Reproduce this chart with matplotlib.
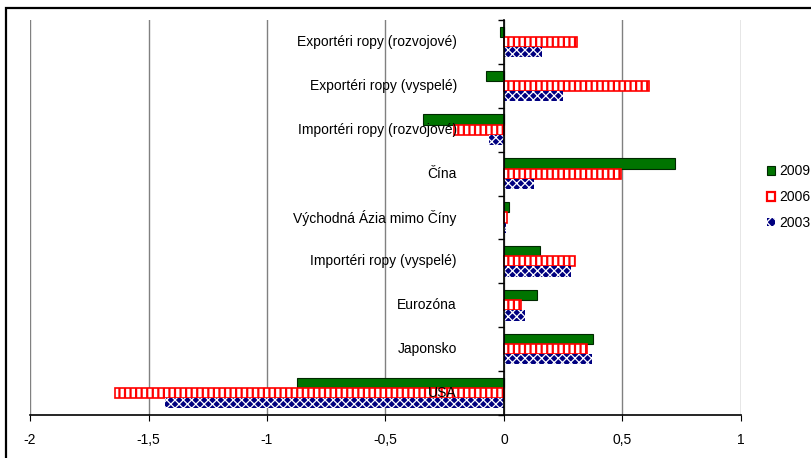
import matplotlib.pyplot as plt
from matplotlib.patches import Patch, Rectangle
import numpy as np

plt.rcParams['font.family'] = ['Liberation Sans', 'DejaVu Sans']
plt.rcParams['font.size'] = 10

# skupiny krajín, zhora nadol
kategorie = ['Exportéri ropy (rozvojové)', 'Exportéri ropy (vyspelé)',
             'Importéri ropy (rozvojové)', 'Čína', 'Východná Ázia mimo Číny',
             'Importéri ropy (vyspelé)', 'Eurozóna', 'Japonsko', 'USA']
roky = ['2009', '2006', '2003']
h2009 = [-0.017, -0.076, -0.343, 0.722, 0.02, 0.15, 0.14, 0.374, -0.875]
h2006 = [0.307, 0.613, -0.21, 0.495, 0.014, 0.298, 0.073, 0.351, -1.643]
h2003 = [0.159, 0.248, -0.062, 0.127, 0.01, 0.281, 0.087, 0.37, -1.43]
x_ticky = [-2, -1.5, -1, -0.5, 0, 0.5, 1]

n = len(kategorie)
y = np.arange(n)[::-1]
v = 0.232  # vyska jedneho stlpca

fig = plt.figure(figsize=(8.12, 4.58), dpi=100)
ax = fig.add_axes([30 / 812, 43 / 458, 711 / 812, 395 / 458])

# ramik okolo celeho grafu
fig.patches.append(Rectangle((5.5 / 812, -0.5), 2, 1.5 - 7.5 / 458,
                             transform=fig.transFigure, fill=False,
                             edgecolor='black', linewidth=1.6))

ax.barh(y + v, h2009, height=v, color='#007400', edgecolor='#002800',
        linewidth=0.8, zorder=3)
with plt.rc_context({'hatch.linewidth': 1.6}):
    ax.barh(y, h2006, height=v, color='white', edgecolor='#ff0000',
            hatch='|||', linewidth=1.2, zorder=3)
with plt.rc_context({'hatch.linewidth': 0.9}):
    ax.barh(y - v, h2003, height=v, color='#000080', edgecolor='white',
            hatch='xxxx', linewidth=0, zorder=3)

# popisky kategorii vlavo od osi
for yi, nazov in zip(y, kategorie):
    ax.annotate(nazov, xy=(0, yi), xytext=(-34, 0), textcoords='offset points',
                ha='right', va='center', zorder=6)

ax.set_xlim(-2, 1)
ax.set_ylim(-0.5, n - 0.5)
ax.set_xticks(x_ticky)
ax.set_xticklabels([f'{t:g}'.replace('.', ',') for t in x_ticky])
ax.tick_params(axis='x', length=4, width=0.8, pad=9, color='black')
ax.xaxis.grid(True, color='#808080', linewidth=1.0, zorder=0)
ax.set_axisbelow(True)

ax.spines['top'].set_visible(False)
ax.spines['right'].set_visible(False)
ax.spines['left'].set_position(('data', 0))
ax.spines['left'].set_zorder(4)
ax.spines['bottom'].set_linewidth(1.2)
ax.spines['left'].set_linewidth(1.2)
ax.set_yticks(np.arange(n + 1) - 0.5)
ax.set_yticklabels([])
ax.tick_params(axis='y', length=4, width=1.0, direction='out', color='black')

handles = [Patch(facecolor='#007400', edgecolor='#002800', linewidth=0.8),
           Patch(facecolor='white', edgecolor='#ff0000', linewidth=1.6),
           Patch(facecolor='#000080', edgecolor='white', hatch='xxx', linewidth=0)]
fig.legend(handles, roky, loc='center left', frameon=False,
           bbox_to_anchor=(767 / 812, 1 - 197 / 458),
           handlelength=0.6, handleheight=0.6, handletextpad=0.25,
           labelspacing=0.85, borderpad=0, borderaxespad=0)

fig.savefig('out.png', dpi=100)
